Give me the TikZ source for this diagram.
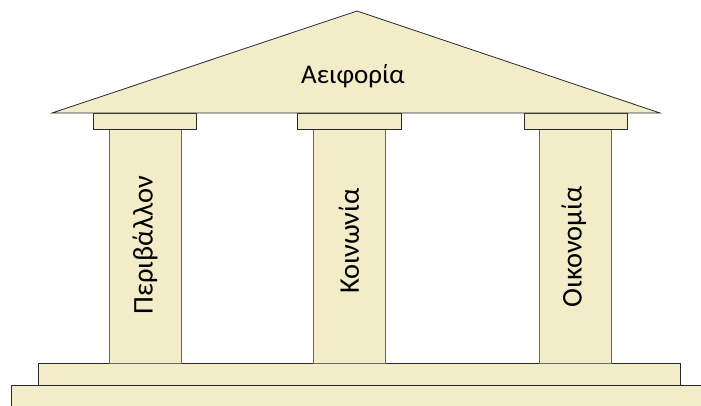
\documentclass[tikz,border=0pt]{standalone}
\usepackage{fontspec}
\setmainfont{Carlito}
\definecolor{stone}{RGB}{242,236,200}
\definecolor{edge}{RGB}{40,40,40}
\tikzset{
  part/.style={fill=stone, draw=edge, line width=0.8pt},
  shaft/.style={fill=stone, draw=edge!70, line width=0.9pt},
  label/.style={text=black, inner sep=0pt},
  rooflabel/.style={label, font=\fontsize{27}{32}\selectfont},
  columnlabel/.style={label, rotate=90, font=\fontsize{28.5}{34}\selectfont},
}
\begin{document}
\begin{tikzpicture}[x=1pt, y=-1pt]
  \useasboundingbox (0,0) rectangle (701,405);
  % steps of the base
  \draw[part] (11,385) rectangle (710,420);
  \draw[part] (38,363) rectangle (680,385);
  % column shafts
  \draw[shaft] (109,129) rectangle (181,363);
  \draw[shaft] (313,129) rectangle (385,363);
  \draw[shaft] (539,129) rectangle (611,363);
  % capitals
  \draw[part] (93,113) rectangle (196,129);
  \draw[part] (297,113) rectangle (401,129);
  \draw[part] (524,113) rectangle (627,129);
  % pediment
  \draw[part, line join=miter] (52,113) -- (357,11) -- (660,113) -- cycle;
  % texts
  \node[rooflabel] (roof) at (353,76) {Αειφορία};
  \node[columnlabel] (env) at (145,245) {Περιβάλλον};
  \node[columnlabel] (soc) at (349,241) {Κοινωνία};
  \node[columnlabel] (eco) at (574,247) {Οικονομία};
\end{tikzpicture}
\end{document}
